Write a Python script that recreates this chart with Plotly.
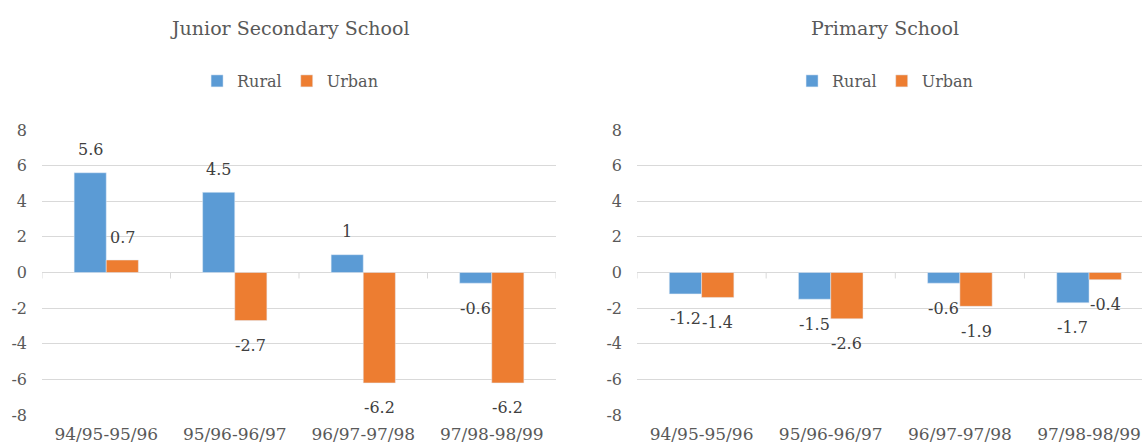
import plotly.graph_objects as go

categories = ["94/95-95/96", "95/96-96/97", "96/97-97/98", "97/98-98/99"]
junior_rural = [5.6, 4.5, 1.0, -0.6]
junior_urban = [0.7, -2.7, -6.2, -6.2]
primary_rural = [-1.2, -1.5, -0.6, -1.7]
primary_urban = [-1.4, -2.6, -1.9, -0.4]
y_ticks = [-8, -6, -4, -2, 0, 2, 4, 6, 8]
titles = ["Junior Secondary School", "Primary School"]

BLUE = "#5B9BD5"
ORANGE = "#ED7D31"
TXT = "#595959"
GRID = "#D9D9D9"
FONT = "DejaVu Serif"

fig = go.Figure()

fig.add_trace(go.Bar(x=categories, y=junior_rural, name="Rural", marker_color=BLUE,
                     xaxis="x", yaxis="y", legend="legend"))
fig.add_trace(go.Bar(x=categories, y=junior_urban, name="Urban", marker_color=ORANGE,
                     xaxis="x", yaxis="y", legend="legend"))
fig.add_trace(go.Bar(x=categories, y=primary_rural, name="Rural", marker_color=BLUE,
                     xaxis="x2", yaxis="y2", legend="legend2"))
fig.add_trace(go.Bar(x=categories, y=primary_urban, name="Urban", marker_color=ORANGE,
                     xaxis="x2", yaxis="y2", legend="legend2"))

annotations = []
for xr, series_pair in (("x", (junior_rural, junior_urban)), ("x2", (primary_rural, primary_urban))):
    yr = "y" if xr == "x" else "y2"
    for k, series in enumerate(series_pair):
        off = -0.125 if k == 0 else 0.125
        for i, v in enumerate(series):
            annotations.append(dict(
                x=i + off, y=v, xref=xr, yref=yr, text=f"{v:g}", showarrow=False,
                xanchor="center", yshift=23 if v > 0 else -25,
                font=dict(family=FONT, size=16, color="#404040")))

for t, xc in zip(titles, [0.254, 0.775]):
    annotations.append(dict(x=xc, y=1 + (130 - 28) / 285, xref="paper", yref="paper",
                            xanchor="center", yanchor="middle", text=t, showarrow=False,
                            font=dict(family=FONT, size=19, color=TXT)))

shapes = []
for xr, yr, rng_max in (("x", "y", 3.5), ("x2", "y2", 3.41)):
    for b in [-0.5, 0.5, 1.5, 2.5, 3.5]:
        if b <= rng_max:
            shapes.append(dict(type="line", xref=xr, yref=yr, x0=b, x1=b,
                               ysizemode="pixel", yanchor=0, y0=0, y1=-6,
                               line=dict(color=GRID, width=1)))

axis_common_y = dict(range=[-8, 8], tickvals=y_ticks, ticktext=[f"{v:g}" for v in y_ticks],
                     showgrid=True, gridcolor=GRID,
                     gridwidth=1, zeroline=True, zerolinecolor=GRID, zerolinewidth=1,
                     showline=False, ticks="", ticklabelstandoff=14,
                     tickfont=dict(family=FONT, size=16, color=TXT))
axis_common_x = dict(type="category", showgrid=False, showline=False, ticks="",
                     ticklabelstandoff=7, tickfont=dict(family=FONT, size=17, color=TXT))

legend_common = dict(orientation="h", xanchor="center", yanchor="middle",
                     yref="container", y=1 - 81 / 446, itemwidth=30,
                     font=dict(family=FONT, size=16, color=TXT), bgcolor="rgba(0,0,0,0)")

fig.update_layout(
    width=1142, height=446,
    margin=dict(l=0, r=0, t=130, b=31),
    paper_bgcolor="white", plot_bgcolor="white",
    barmode="group", bargap=0.5, bargroupgap=0,
    xaxis=dict(domain=[42 / 1142, 556 / 1142], range=[-0.5, 3.5], anchor="y", **axis_common_x),
    yaxis=dict(anchor="x", **axis_common_y),
    xaxis2=dict(domain=[637 / 1142, 1], range=[-0.5, 3.41], anchor="y2", **axis_common_x),
    yaxis2=dict(anchor="x2", **axis_common_y),
    legend=dict(x=0.254, **legend_common),
    legend2=dict(x=0.775, **legend_common),
    annotations=annotations,
    shapes=shapes,
    font=dict(family=FONT, color=TXT),
)

fig.write_html("out.html")
